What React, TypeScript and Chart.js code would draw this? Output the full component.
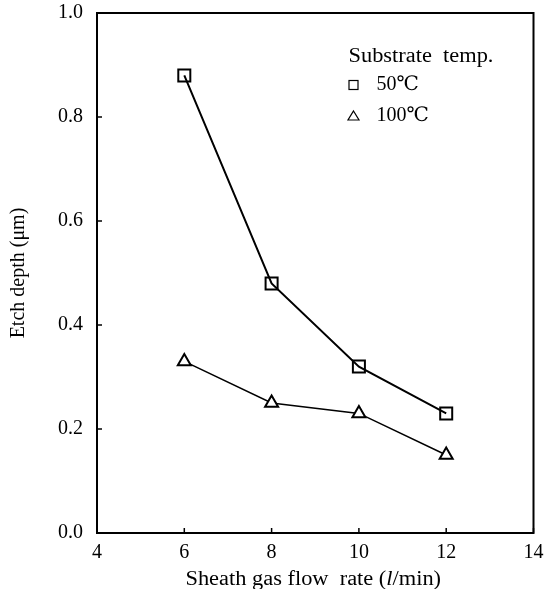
import React, { useEffect, useRef } from 'react';
import { Chart, registerables } from 'chart.js';

Chart.register(...registerables);

const flowRates = [6, 8, 10, 12];
const depth50 = [0.88, 0.48, 0.32, 0.23];
const depth100 = [0.33, 0.25, 0.23, 0.15];
const xTickValues = [4, 6, 8, 10, 12, 14];
const yTickValues = [0, 0.2, 0.4, 0.6, 0.8, 1.0];
const legendTitle = 'Substrate  temp.';
const seriesLabels = ['50℃', '100℃'];
const yTitle = 'Etch depth (μm)';
const xTitleParts = ['Sheath gas flow  rate (', 'l', '/min)'];

const FONT = '"Liberation Serif", "DejaVu Serif", serif';

const framePlugin = {
  id: 'frameAndExtras',
  afterDraw(chart: any) {
    const { ctx, chartArea } = chart;
    const { left, top, right, bottom } = chartArea;
    const xs = chart.scales.x;
    const ys = chart.scales.y;
    ctx.save();
    ctx.strokeStyle = '#000';
    ctx.lineWidth = 2;
    ctx.strokeRect(left, top, right - left, bottom - top);
    ctx.lineWidth = 1.5;
    xTickValues.forEach((v) => {
      const px = xs.getPixelForValue(v);
      ctx.beginPath();
      ctx.moveTo(px, bottom);
      ctx.lineTo(px, bottom - 5);
      ctx.stroke();
    });
    yTickValues.forEach((v) => {
      const py = ys.getPixelForValue(v);
      ctx.beginPath();
      ctx.moveTo(left, py);
      ctx.lineTo(left + 5, py);
      ctx.stroke();
    });

    // legend
    const lx = right - 185;
    ctx.fillStyle = '#000';
    ctx.font = `20px ${FONT}`;
    ctx.textBaseline = 'alphabetic';
    ctx.textAlign = 'left';
    ctx.save();
    ctx.translate(lx, top + 49);
    ctx.scale(1.12, 1);
    ctx.fillText(legendTitle, 0, 0);
    ctx.restore();
    // square
    ctx.lineWidth = 1.2;
    ctx.strokeRect(lx + 0.5, top + 67.5, 9, 9);
    ctx.fillText(seriesLabels[0], lx + 28, top + 77);
    // triangle
    const tcx = lx + 5;
    const tcy = top + 103;
    ctx.beginPath();
    ctx.moveTo(tcx, tcy - 5);
    ctx.lineTo(tcx + 5.5, tcy + 4);
    ctx.lineTo(tcx - 5.5, tcy + 4);
    ctx.closePath();
    ctx.stroke();
    ctx.fillText(seriesLabels[1], lx + 28, top + 108);

    // x title
    const sc = 1.12;
    const normal = `20px ${FONT}`;
    const italic = `italic 20px ${FONT}`;
    ctx.font = normal;
    const w0 = ctx.measureText(xTitleParts[0]).width;
    const w2 = ctx.measureText(xTitleParts[2]).width;
    ctx.font = italic;
    const w1 = ctx.measureText(xTitleParts[1]).width;
    const total = (w0 + w1 + w2) * sc;
    const startX = (left + right) / 2 - total / 2 - 2;
    const by = bottom + 52;
    ctx.save();
    ctx.translate(startX, by);
    ctx.scale(sc, 1);
    let sx = 0;
    ctx.font = normal;
    ctx.fillText(xTitleParts[0], sx, 0);
    sx += w0;
    ctx.font = italic;
    ctx.fillText(xTitleParts[1], sx, 0);
    sx += w1;
    ctx.font = normal;
    ctx.fillText(xTitleParts[2], sx, 0);
    ctx.restore();
    ctx.restore();
  },
};

export default function App() {
  const ref = useRef<HTMLCanvasElement | null>(null);
  useEffect(() => {
    if (!ref.current) return;
    const chart = new Chart(ref.current, {
      type: 'line',
      data: {
        datasets: [
          {
            label: seriesLabels[0],
            data: flowRates.map((x, i) => ({ x, y: depth50[i] })),
            borderColor: '#000',
            borderWidth: 2,
            pointStyle: 'rect',
            pointRadius: 8.5,
            pointBorderWidth: 2,
            pointBorderColor: '#000',
            pointBackgroundColor: 'rgba(0,0,0,0)',
            tension: 0,
          },
          {
            label: seriesLabels[1],
            data: flowRates.map((x, i) => ({ x, y: depth100[i] })),
            borderColor: '#000',
            borderWidth: 1.5,
            pointStyle: 'triangle',
            pointRadius: 7.5,
            pointBorderWidth: 2,
            pointBorderColor: '#000',
            pointBackgroundColor: 'rgba(255,255,255,1)',
            tension: 0,
          },
        ],
      },
      options: {
        animation: false,
        responsive: false,
        maintainAspectRatio: false,
        layout: { padding: { top: 13, right: 7, left: 0, bottom: 0 } },
        plugins: {
          legend: { display: false },
          tooltip: { enabled: false },
        },
        scales: {
          x: {
            type: 'linear',
            min: 4,
            max: 14,
            afterBuildTicks: (s: any) => {
              s.ticks = xTickValues.map((v) => ({ value: v }));
            },
            afterFit: (s: any) => {
              s.height = 56;
              s.paddingLeft = 0;
              s.paddingRight = 0;
            },
            ticks: {
              color: '#000',
              font: { family: FONT, size: 20 },
              padding: 8,
              maxRotation: 0,
              callback: (v: any) => String(v),
            },
            grid: { display: false, drawTicks: false },
            border: { display: false },
          },
          y: {
            type: 'linear',
            min: 0,
            max: 1,
            afterBuildTicks: (s: any) => {
              s.ticks = yTickValues.map((v) => ({ value: v }));
            },
            afterFit: (s: any) => {
              s.width = 97;
              s.paddingTop = 0;
              s.paddingBottom = 0;
            },
            ticks: {
              color: '#000',
              font: { family: FONT, size: 20 },
              padding: 14,
              callback: (v: any) => Number(v).toFixed(1),
            },
            grid: { display: false, drawTicks: false },
            border: { display: false },
            title: {
              display: true,
              text: yTitle,
              color: '#000',
              font: { family: FONT, size: 20 },
              padding: { top: 7, bottom: 0 },
            },
          },
        },
      },
      plugins: [framePlugin],
    });
    return () => chart.destroy();
  }, []);
  return (
    <div style={{ position: 'fixed', left: 0, top: 0, width: 544, height: 589, background: '#fff' }}>
      <canvas ref={ref} width={544} height={589} style={{ width: 544, height: 589 }} />
    </div>
  );
}
